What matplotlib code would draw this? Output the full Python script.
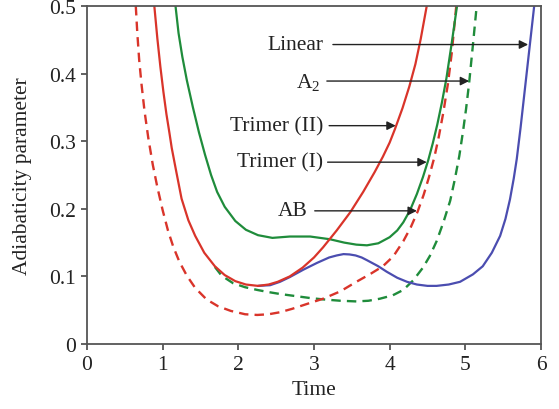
import numpy as np
import matplotlib
matplotlib.use("Agg")
import matplotlib.pyplot as plt

plt.rcParams['font.family'] = ['Liberation Serif', 'DejaVu Serif']
plt.rcParams['mathtext.fontset'] = 'custom'
plt.rcParams['mathtext.rm'] = 'Liberation Serif'
plt.rcParams['mathtext.it'] = 'Liberation Serif:italic'

# curves (time, adiabaticity parameter)
trimer2_x = [0.89, 0.93, 0.97, 1.01, 1.05, 1.09, 1.12, 1.18, 1.25, 1.34, 1.43, 1.55, 1.69, 1.82, 1.96, 2.10,
             2.26, 2.40, 2.52, 2.68, 2.85, 3.00, 3.12, 3.30, 3.48, 3.65, 3.80, 3.91, 4.00, 4.07, 4.17, 4.26,
             4.34, 4.41, 4.49]
trimer2_y = [0.50, 0.452, 0.41, 0.373, 0.34, 0.312, 0.29, 0.255, 0.215, 0.183, 0.16, 0.135, 0.115, 0.102,
             0.093, 0.088, 0.086, 0.088, 0.092, 0.100, 0.113, 0.128, 0.143, 0.168, 0.195, 0.225, 0.254, 0.277,
             0.298, 0.318, 0.349, 0.381, 0.414, 0.451, 0.50]

ab_x = [0.645, 0.665, 0.69, 0.72, 0.76, 0.81, 0.87, 0.93, 1.00, 1.07, 1.14, 1.22, 1.32, 1.43, 1.58, 1.73, 1.90,
        2.09, 2.25, 2.40, 2.55, 2.71, 2.90, 3.12, 3.35, 3.56, 3.75, 3.91, 4.05, 4.18, 4.28, 4.37, 4.45, 4.52,
        4.59, 4.65, 4.71, 4.77, 4.82, 4.88]
ab_y = [0.50, 0.46, 0.42, 0.385, 0.345, 0.305, 0.265, 0.232, 0.198, 0.168, 0.144, 0.122, 0.101, 0.083, 0.066,
        0.056, 0.049, 0.044, 0.043, 0.044, 0.047, 0.052, 0.059, 0.067, 0.078, 0.092, 0.104, 0.115, 0.13, 0.152,
        0.173, 0.196, 0.221, 0.247, 0.276, 0.307, 0.343, 0.385, 0.43, 0.50]

trimer1_x = [1.17, 1.21, 1.26, 1.32, 1.40, 1.48, 1.56, 1.64, 1.72, 1.82, 1.96, 2.10, 2.26, 2.45, 2.68, 2.95,
             3.21, 3.40, 3.56, 3.70, 3.85, 4.00, 4.10, 4.18, 4.27, 4.36, 4.44, 4.51, 4.57, 4.63, 4.69, 4.75,
             4.82, 4.89]
trimer1_y = [0.50, 0.46, 0.425, 0.39, 0.35, 0.313, 0.28, 0.25, 0.225, 0.203, 0.182, 0.169, 0.161, 0.157,
             0.159, 0.159, 0.155, 0.150, 0.147, 0.146, 0.149, 0.158, 0.168, 0.180, 0.198, 0.222, 0.247, 0.272,
             0.297, 0.325, 0.357, 0.393, 0.445, 0.50]

a2_x = [1.69, 1.78, 1.93, 2.09, 2.25, 2.39, 2.55, 2.75, 2.95, 3.12, 3.35, 3.56, 3.72, 3.87, 4.04, 4.18, 4.31,
        4.44, 4.53, 4.62, 4.71, 4.80, 4.86, 4.92, 4.97, 5.01, 5.05, 5.10, 5.15]
a2_y = [0.114, 0.101, 0.090, 0.084, 0.080, 0.077, 0.074, 0.071, 0.068, 0.066, 0.064, 0.063, 0.064, 0.067,
        0.072, 0.080, 0.094, 0.113, 0.130, 0.152, 0.18, 0.212, 0.243, 0.278, 0.315, 0.348, 0.386, 0.442, 0.50]

linear_x = [2.26, 2.42, 2.55, 2.68, 2.86, 3.04, 3.20, 3.30, 3.39, 3.47, 3.55, 3.63, 3.70, 3.85, 3.96, 4.10,
            4.23, 4.36, 4.50, 4.62, 4.78, 4.93, 5.10, 5.23, 5.35, 5.46, 5.53, 5.59, 5.64, 5.68, 5.73, 5.78,
            5.84, 5.91]
linear_y = [0.086, 0.087, 0.092, 0.099, 0.110, 0.120, 0.128, 0.131, 0.133, 0.1325, 0.131, 0.128, 0.124,
            0.115, 0.107, 0.098, 0.092, 0.088, 0.086, 0.086, 0.088, 0.092, 0.103, 0.115, 0.135, 0.160, 0.185,
            0.214, 0.245, 0.274, 0.32, 0.37, 0.43, 0.50]

labels = ['Linear', r'$\mathrm{A}_2$', 'Trimer (II)', 'Trimer (I)', 'AB']

red = '#d9342a'
green = '#1f8c3b'
blue = '#4b4db0'

fig = plt.figure(figsize=(5.59, 4.10), dpi=100)
ax = fig.add_axes([0.1556, 0.1585, 0.8122, 0.8244])

dash = (0, (4, 2.6))
kw = dict(solid_joinstyle='round', solid_capstyle='round')
ax.plot(a2_x, a2_y, color=green, lw=1.7, linestyle=dash)
ax.plot(linear_x, linear_y, color=blue, lw=1.6, **kw)
ax.plot(ab_x, ab_y, color=red, lw=1.7, linestyle=dash)
ax.plot(trimer1_x, trimer1_y, color=green, lw=1.6, **kw)
ax.plot(trimer2_x, trimer2_y, color=red, lw=1.6, **kw)

# label text end, arrow tail, arrow head, height
arrows = [
    (3.12, 3.25, 5.83, 0.443),
    (3.09, 3.17, 5.05, 0.389),
    (3.12, 3.20, 4.08, 0.323),
    (3.12, 3.18, 4.49, 0.269),
    (2.91, 3.01, 4.36, 0.197),
]
for lab, (tx, x0, x1, yy) in zip(labels, arrows):
    ax.text(tx, yy, lab, ha='right', va='center', fontsize=15.5, color='#222222')
    ax.annotate('', xy=(x1, yy), xytext=(x0, yy),
                arrowprops=dict(arrowstyle='-|>', color='#222222', lw=1.0,
                                mutation_scale=13, shrinkA=0, shrinkB=0))

ax.set_xlim(0, 6)
ax.set_ylim(0, 0.5)
ax.set_xticks([0, 1, 2, 3, 4, 5, 6])
ax.set_yticks([0, 0.1, 0.2, 0.3, 0.4, 0.5])
ax.set_yticklabels(['0', '0.1', '0.2', '0.3', '0.4', '0.5'])
ax.tick_params(direction='out', length=4, width=1.3, color='#555555', labelsize=15.5,
               labelcolor='#222222', pad=4)
for s in ax.spines.values():
    s.set_color('#555555')
    s.set_linewidth(1.3)
ax.set_xlabel('Time', fontsize=15.5, color='#222222', labelpad=4)
ax.set_ylabel('Adiabaticity parameter', fontsize=15.5, color='#222222', labelpad=12)

fig.savefig('out.png', dpi=100)
